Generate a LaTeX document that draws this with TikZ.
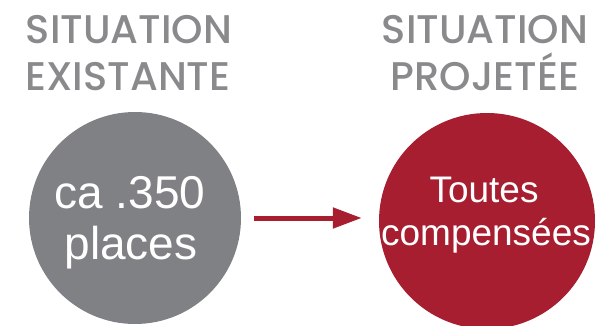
\documentclass[tikz,border=0pt]{standalone}
\usepackage{fontspec}
\setmainfont{Liberation Sans}
\newfontfamily\hfont{Poppins Medium}
\usetikzlibrary{arrows.meta}
\definecolor{hgray}{HTML}{8A8A8C}
\definecolor{cgray}{HTML}{808184}
\definecolor{cred}{HTML}{A61E2F}
\tikzset{
  head/.style={text=hgray, font=\hfont\fontsize{40}{47}\selectfont, inner sep=0pt, anchor=base},
  disc/.style={circle, inner sep=0pt, draw=none},
  big/.style={text=white, font=\fontsize{46}{52}\selectfont, inner sep=0pt, anchor=base},
  mid/.style={text=white, font=\fontsize{37}{43}\selectfont, inner sep=0pt, anchor=base},
  link/.style={cred, line width=5pt, -{Triangle[length=29pt,width=20pt]}}
}
\begin{document}
\begin{tikzpicture}[x=1pt,y=-1pt]
\useasboundingbox (0,0) rectangle (599,326);
\node[head] (h1a) at (129,44) {SITUATION};
\node[head] (h1b) at (128,91) {EXISTANTE};
\node[head] (h2a) at (485,44) {SITUATION};
\node[head] (h2b) at (485,91) {PROJETÉE};
\node[disc, fill=cgray, minimum size=212pt] (a) at (135,218) {};
\node[disc, fill=cred, minimum size=216pt] (b) at (487,221) {};
\node[big] (a1) at (130,208) {ca .350};
\node[big] (a2) at (131,259) {places};
\node[mid] (b1) at (484,202) {Toutes};
\node[mid] (b2) at (486,245) {compensées};
\draw[link, shorten <=13pt, shorten >=17pt] (a.east) -- (a.east -| b.west);
\end{tikzpicture}
\end{document}
